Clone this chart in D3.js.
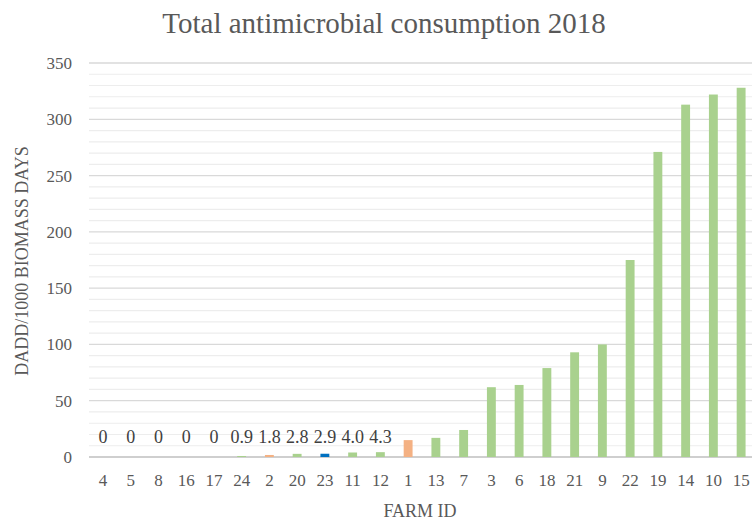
<!DOCTYPE html>
<html>
<head>
<meta charset="utf-8">
<script src="https://cdn.jsdelivr.net/npm/d3@7"></script>
<style>
  body { margin: 0; background: #fff; }
  svg text { font-family: "Liberation Serif", serif; }
</style>
</head>
<body>
<script>
// chart data
const farms = ["4", "5", "8", "16", "17", "24", "2", "20", "23", "11", "12", "1",
  "13", "7", "3", "6", "18", "21", "9", "22", "19", "14", "10", "15"];
const consumption = [0, 0, 0, 0, 0, 0.9, 1.8, 2.8, 2.9, 4.0, 4.3, 15,
  17, 24, 62, 64, 79, 93, 100, 175, 271, 313, 322, 328];
// labelled values shown above the small bars
const valueLabels = ["0", "0", "0", "0", "0", "0.9", "1.8", "2.8", "2.9", "4.0", "4.3"];
// bar colour group per farm
const groups = ["g", "g", "g", "g", "g", "g", "o", "g", "b", "g", "g", "o",
  "g", "g", "g", "g", "g", "g", "g", "g", "g", "g", "g", "g"];
const yTicks = [0, 50, 100, 150, 200, 250, 300, 350];

const W = 752, H = 521;
const margin = {top: 63, right: -3, bottom: 64, left: 89};

const svg = d3.select("body").append("svg")
  .attr("width", W).attr("height", H);

const x = d3.scaleBand()
  .domain(farms)
  .range([margin.left, W - margin.right])
  .paddingInner(0.68).paddingOuter(0.34);

const y = d3.scaleLinear()
  .domain([0, 350])
  .range([H - margin.bottom, margin.top]);

const colour = d3.scaleOrdinal()
  .domain(["g", "o", "b"])
  .range(["#a9d18e", "#f4b183", "#0070c0"]);

// minor gridlines every 10
svg.append("g").selectAll("line")
  .data(d3.range(10, 351, 10).filter(v => v % 50 != 0))
  .enter().append("line")
  .attr("x1", margin.left).attr("x2", W)
  .attr("y1", d => y(d)).attr("y2", d => y(d))
  .attr("stroke", "#ededed").attr("stroke-width", 1.2);

// major gridlines
svg.append("g").selectAll("line")
  .data(yTicks)
  .enter().append("line")
  .attr("x1", margin.left).attr("x2", W)
  .attr("y1", d => y(d)).attr("y2", d => y(d))
  .attr("stroke", d => d == 0 ? "#bfbfbf" : "#d9d9d9").attr("stroke-width", 1.3);

// bars
svg.append("g").selectAll("rect")
  .data(farms)
  .enter().append("rect")
  .attr("x", d => x(d))
  .attr("width", x.bandwidth())
  .attr("y", (d, i) => y(consumption[i]))
  .attr("height", (d, i) => y(0) - y(consumption[i]))
  .attr("fill", (d, i) => colour(groups[i]));

// value labels
svg.append("g").selectAll("text")
  .data(valueLabels)
  .enter().append("text")
  .attr("x", (d, i) => x(farms[i]) + x.bandwidth() / 2)
  .attr("y", y(0) - 14)
  .attr("text-anchor", "middle")
  .attr("font-size", 18)
  .attr("fill", "#404040")
  .text(d => d);

// y axis
const yAxis = d3.axisLeft(y).tickValues(yTicks).tickSize(0).tickPadding(17);
svg.append("g")
  .attr("transform", "translate(" + margin.left + ",0)")
  .call(yAxis)
  .call(g => g.select(".domain").remove())
  .selectAll("text")
  .attr("font-size", 17)
  .attr("fill", "#595959");

// x axis
const xAxis = d3.axisBottom(x).tickSize(0).tickPadding(17);
svg.append("g")
  .attr("transform", "translate(0," + y(0) + ")")
  .call(xAxis)
  .call(g => g.select(".domain").remove())
  .selectAll("text")
  .attr("font-size", 17)
  .attr("fill", "#595959");

// title
svg.append("text")
  .attr("x", 384).attr("y", 33)
  .attr("text-anchor", "middle")
  .attr("font-size", 29)
  .attr("fill", "#595959")
  .text("Total antimicrobial consumption 2018");

// axis titles
svg.append("text")
  .attr("transform", "translate(28," + 261 + ") rotate(-90)")
  .attr("text-anchor", "middle")
  .attr("font-size", 18)
  .attr("fill", "#595959")
  .text("DADD/1000 BIOMASS DAYS");

svg.append("text")
  .attr("x", 420).attr("y", 517)
  .attr("text-anchor", "middle")
  .attr("font-size", 18)
  .attr("fill", "#595959")
  .text("FARM ID");
</script>
</body>
</html>
